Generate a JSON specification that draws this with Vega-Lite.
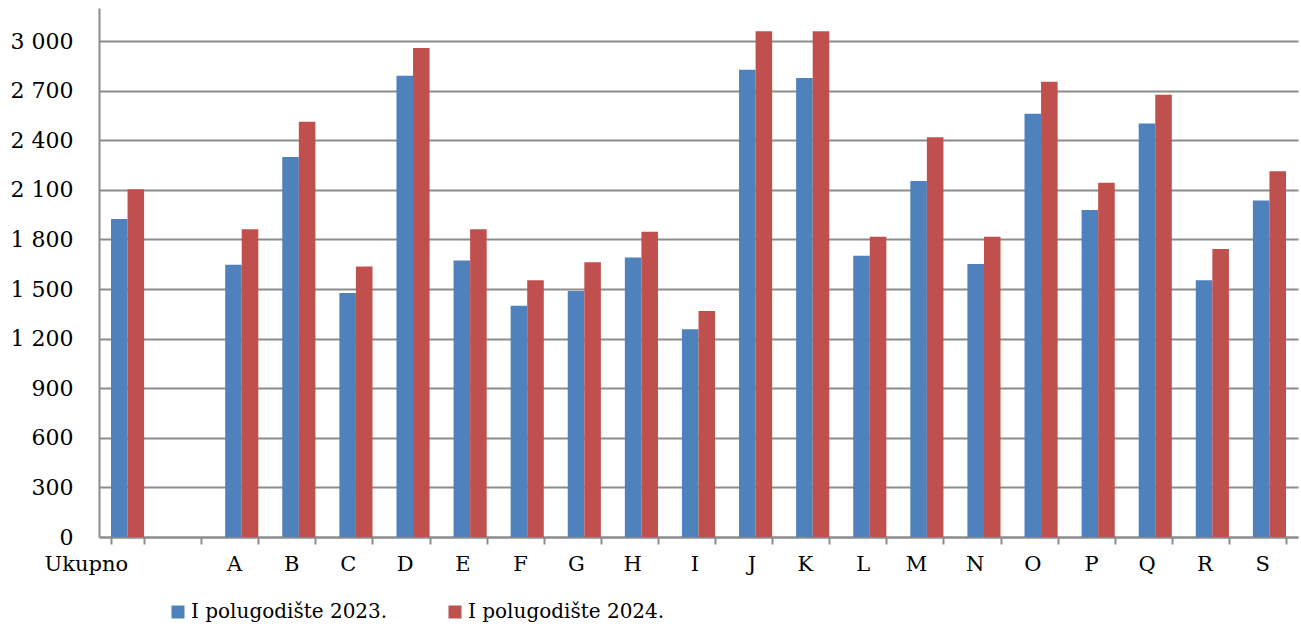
{
  "$schema": "https://vega.github.io/schema/vega-lite/v6.json",
  "width": 1199,
  "height": 529,
  "autosize": {"type": "none"},
  "padding": {"left": 99, "top": 8, "right": 3, "bottom": 89},
  "background": "white",
  "config": {
    "view": {"stroke": null},
    "font": "DejaVu Serif"
  },
  "data": {
    "values": [
      {"k": "Ukupno", "s": "I polugodište 2023.", "v": 1923},
      {"k": "Ukupno", "s": "I polugodište 2024.", "v": 2103},
      {"k": "A", "s": "I polugodište 2023.", "v": 1647},
      {"k": "A", "s": "I polugodište 2024.", "v": 1861},
      {"k": "B", "s": "I polugodište 2023.", "v": 2298},
      {"k": "B", "s": "I polugodište 2024.", "v": 2512},
      {"k": "C", "s": "I polugodište 2023.", "v": 1476},
      {"k": "C", "s": "I polugodište 2024.", "v": 1637},
      {"k": "D", "s": "I polugodište 2023.", "v": 2790},
      {"k": "D", "s": "I polugodište 2024.", "v": 2958},
      {"k": "E", "s": "I polugodište 2023.", "v": 1673},
      {"k": "E", "s": "I polugodište 2024.", "v": 1861},
      {"k": "F", "s": "I polugodište 2023.", "v": 1399},
      {"k": "F", "s": "I polugodište 2024.", "v": 1553},
      {"k": "G", "s": "I polugodište 2023.", "v": 1488},
      {"k": "G", "s": "I polugodište 2024.", "v": 1662},
      {"k": "H", "s": "I polugodište 2023.", "v": 1690},
      {"k": "H", "s": "I polugodište 2024.", "v": 1847},
      {"k": "I", "s": "I polugodište 2023.", "v": 1256},
      {"k": "I", "s": "I polugodište 2024.", "v": 1367},
      {"k": "J", "s": "I polugodište 2023.", "v": 2827},
      {"k": "J", "s": "I polugodište 2024.", "v": 3059},
      {"k": "K", "s": "I polugodište 2023.", "v": 2776},
      {"k": "K", "s": "I polugodište 2024.", "v": 3059},
      {"k": "L", "s": "I polugodište 2023.", "v": 1702},
      {"k": "L", "s": "I polugodište 2024.", "v": 1817},
      {"k": "M", "s": "I polugodište 2023.", "v": 2153},
      {"k": "M", "s": "I polugodište 2024.", "v": 2418},
      {"k": "N", "s": "I polugodište 2023.", "v": 1651},
      {"k": "N", "s": "I polugodište 2024.", "v": 1817},
      {"k": "O", "s": "I polugodište 2023.", "v": 2561},
      {"k": "O", "s": "I polugodište 2024.", "v": 2754},
      {"k": "P", "s": "I polugodište 2023.", "v": 1978},
      {"k": "P", "s": "I polugodište 2024.", "v": 2143},
      {"k": "Q", "s": "I polugodište 2023.", "v": 2502},
      {"k": "Q", "s": "I polugodište 2024.", "v": 2675},
      {"k": "R", "s": "I polugodište 2023.", "v": 1553},
      {"k": "R", "s": "I polugodište 2024.", "v": 1742},
      {"k": "S", "s": "I polugodište 2023.", "v": 2036},
      {"k": "S", "s": "I polugodište 2024.", "v": 2212}
    ]
  },
  "mark": {"type": "bar"},
  "encoding": {
    "x": {
      "field": "k",
      "type": "nominal",
      "scale": {
        "domain": ["Ukupno", " ", "A", "B", "C", "D", "E", "F", "G", "H", "I", "J", "K", "L", "M", "N", "O", "P", "Q", "R", "S"],
        "paddingInner": 0.42,
        "paddingOuter": 0.21
      },
      "axis": {
        "title": null,
        "labelAngle": 0,
        "labelAlign": "right",
        "labelBaseline": "top",
        "labelFontSize": 21,
        "labelColor": "#000000",
        "labelPadding": 9,
        "tickBand": "extent",
        "tickSize": 7,
        "tickWidth": 2,
        "tickColor": "#8c8c8c",
        "domainColor": "#8c8c8c",
        "domainWidth": 2,
        "grid": false
      }
    },
    "xOffset": {
      "field": "s",
      "type": "nominal",
      "scale": {"domain": ["I polugodište 2023.", "I polugodište 2024."]}
    },
    "y": {
      "field": "v",
      "type": "quantitative",
      "scale": {"domain": [0, 3200], "nice": false, "zero": true},
      "axis": {
        "title": null,
        "values": [0, 300, 600, 900, 1200, 1500, 1800, 2100, 2400, 2700, 3000],
        "labelExpr": "replace(format(datum.value, ','), ',', ' ')",
        "labelFontSize": 22,
        "labelColor": "#000000",
        "labelPadding": 26,
        "ticks": false,
        "grid": true,
        "gridColor": "#8c8c8c",
        "gridWidth": 2,
        "domainColor": "#8c8c8c",
        "domainWidth": 2
      }
    },
    "color": {
      "field": "s",
      "type": "nominal",
      "scale": {
        "domain": ["I polugodište 2023.", "I polugodište 2024."],
        "range": ["#4F81BD", "#C0504D"]
      },
      "legend": {
        "title": null,
        "orient": "none",
        "direction": "horizontal",
        "legendX": 69,
        "legendY": 594,
        "symbolType": "square",
        "symbolSize": 169,
        "symbolStrokeWidth": 0,
        "labelFontSize": 20,
        "labelLimit": 0,
        "labelColor": "#000000",
        "labelOffset": 3,
        "columnPadding": 57
      }
    }
  }
}
